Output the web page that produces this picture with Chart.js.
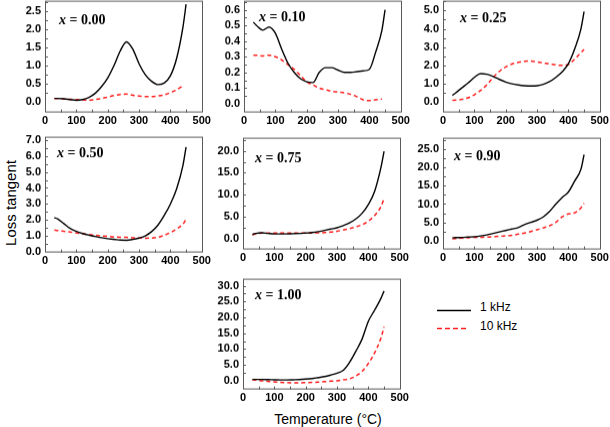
<!DOCTYPE html>
<html>
<head>
<meta charset="UTF-8">
<script src="https://cdn.jsdelivr.net/npm/chart.js"></script>
<style>
  body { margin: 0; background: #fff; }
  #page { position: relative; width: 610px; height: 427px; overflow: hidden; font-family: "Liberation Sans", Arial, sans-serif; color: #000; }
  canvas.panel { position: absolute; }
  .ylab { position: absolute; left: 10px; top: 203px; transform: translate(-50%, -50%) rotate(-90deg); font-size: 15px; white-space: nowrap; }
  .xlab { position: absolute; left: 328px; top: 419px; transform: translate(-50%, -50%); font-size: 14px; white-space: nowrap; }
  .legtxt { position: absolute; left: 480px; font-size: 12px; white-space: nowrap; transform: translateY(-50%); }
  svg.leg { position: absolute; left: 436px; top: 300px; }
</style>
</head>
<body>
<div id="page">
  <div class="ylab">Loss tangent</div>
  <div class="xlab">Temperature (°C)</div>
  <svg class="leg" width="40" height="40">
    <line x1="1" y1="10.5" x2="35" y2="10.5" stroke="#000" stroke-width="1.4"></line>
    <line x1="1" y1="28.5" x2="32" y2="28.5" stroke="#ff1f1f" stroke-width="1.5" stroke-dasharray="5 3"></line>
  </svg>
  <div class="legtxt" style="top:307px">1 kHz</div>
  <div class="legtxt" style="top:326px">10 kHz</div>
</div>
<script>
// temperatures (°C) shared by all curves
const temps = [30, 40, 60, 80, 100, 120, 140, 160, 180, 200, 220, 240, 260, 280, 300, 320, 340, 360, 380, 400, 420, 440, 450];
const xTicks = [0, 100, 200, 300, 400, 500];

// x = 0.00
const k1_000  = [0.10, 0.10, 0.09, 0.07, 0.05, 0.07, 0.13, 0.24, 0.42, 0.66, 1.00, 1.40, 1.65, 1.45, 1.05, 0.75, 0.57, 0.48, 0.52, 0.72, 1.20, 2.05, 2.68];
const k10_000 = [0.10, 0.10, 0.09, 0.08, 0.07, 0.06, 0.05, 0.07, 0.10, 0.14, 0.18, 0.21, 0.22, 0.19, 0.17, 0.15, 0.15, 0.17, 0.20, 0.26, 0.34, 0.45, null];
const yTicks_000 = [0, 0.5, 1.0, 1.5, 2.0, 2.5];

// x = 0.10
const k1_010  = [0.52, 0.50, 0.47, 0.49, 0.45, 0.35, 0.26, 0.20, 0.16, 0.14, 0.135, 0.20, 0.23, 0.23, 0.215, 0.20, 0.20, 0.205, 0.21, 0.22, 0.33, 0.47, 0.60];
const k10_010 = [0.31, 0.31, 0.305, 0.31, 0.30, 0.28, 0.25, 0.22, 0.18, 0.14, 0.12, 0.10, 0.09, 0.08, 0.075, 0.07, 0.06, 0.045, 0.025, 0.02, 0.025, 0.03, null];
const yTicks_010 = [0, 0.1, 0.2, 0.3, 0.4, 0.5, 0.6];

// x = 0.25
const k1_025  = [0.37, 0.50, 0.78, 1.05, 1.35, 1.56, 1.52, 1.40, 1.24, 1.10, 1.00, 0.94, 0.90, 0.88, 0.90, 0.97, 1.12, 1.35, 1.65, 2.10, 2.90, 4.00, 4.95];
const k10_025 = [0.10, 0.11, 0.15, 0.24, 0.40, 0.64, 0.95, 1.35, 1.68, 1.92, 2.08, 2.17, 2.23, 2.24, 2.20, 2.14, 2.08, 2.03, 2.01, 2.05, 2.35, 2.70, 2.88];
const yTicks_025 = [0, 1, 2, 3, 4, 5];

// x = 0.50
const k1_050  = [2.15, 2.08, 1.78, 1.48, 1.29, 1.16, 1.06, 0.98, 0.90, 0.84, 0.80, 0.75, 0.74, 0.79, 0.88, 1.02, 1.28, 1.68, 2.28, 3.00, 3.95, 5.40, 6.55];
const k10_050 = [1.38, 1.35, 1.30, 1.25, 1.20, 1.15, 1.10, 1.06, 1.02, 0.98, 0.95, 0.93, 0.92, 0.90, 0.88, 0.87, 0.88, 0.93, 1.05, 1.22, 1.45, 1.75, 2.05];
const yTicks_050 = [0, 1, 2, 3, 4, 5, 6, 7];

// x = 0.75
const k1_075  = [1.0, 1.2, 1.35, 1.2, 1.1, 1.1, 1.1, 1.15, 1.2, 1.3, 1.4, 1.6, 1.9, 2.2, 2.5, 3.0, 3.6, 4.5, 5.8, 7.8, 10.8, 16.2, 19.9];
const k10_075 = [0.9, 1.1, 1.3, 1.3, 1.3, 1.3, 1.3, 1.3, 1.3, 1.3, 1.3, 1.35, 1.4, 1.5, 1.7, 2.0, 2.3, 2.7, 3.2, 4.0, 5.3, 7.3, 9.2];
const yTicks_075 = [0, 5, 10, 15, 20];

// x = 0.90
const k1_090  = [0.8, 0.85, 0.9, 1.0, 1.1, 1.3, 1.6, 2.0, 2.4, 2.8, 3.2, 3.6, 4.4, 5.0, 5.6, 6.5, 8.0, 10.0, 11.8, 13.3, 16.3, 19.5, 23.5];
const k10_090 = [0.55, 0.6, 0.7, 0.8, 0.9, 0.95, 1.0, 1.1, 1.2, 1.35, 1.5, 1.8, 2.1, 2.5, 3.0, 3.5, 4.1, 5.0, 6.5, 7.3, 7.6, 9.0, 10.2];
const yTicks_090 = [0, 5, 10, 15, 20, 25];

// x = 1.00
const k1_100  = [0.4, 0.4, 0.4, 0.35, 0.3, 0.25, 0.25, 0.3, 0.35, 0.5, 0.7, 1.0, 1.3, 1.8, 2.4, 3.3, 5.8, 9.3, 13.2, 18.8, 22.3, 26.0, 28.3];
const k10_100 = [0.3, 0.2, 0.0, -0.2, -0.35, -0.5, -0.6, -0.65, -0.65, -0.6, -0.55, -0.45, -0.3, -0.15, 0.0, 0.25, 0.6, 1.5, 3.0, 5.5, 8.8, 13.5, 17.0];
const yTicks_100 = [0, 5, 10, 15, 20, 25, 30];

// panel layout: box = [left, top, width, height] of the framed plot area, lab = title offset
const panels = [
  { name: '0.00', k1: k1_000, k10: k10_000, yTicks: yTicks_000, yMin: -0.284, yMax: 2.776, box: [45, 1, 158, 111],   lab: [14, 23] },
  { name: '0.10', k1: k1_010, k10: k10_010, yTicks: yTicks_010, yMin: -0.056, yMax: 0.658, box: [244, 1, 158, 111],  lab: [15, 20] },
  { name: '0.25', k1: k1_025, k10: k10_025, yTicks: yTicks_025, yMin: -0.566, yMax: 5.538, box: [443, 1, 158, 111],  lab: [17, 21] },
  { name: '0.50', k1: k1_050, k10: k10_050, yTicks: yTicks_050, yMin: -0.02,  yMax: 7.19,  box: [45, 137, 158, 115], lab: [12, 20] },
  { name: '0.75', k1: k1_075, k10: k10_075, yTicks: yTicks_075, yMin: -2.45,  yMax: 22.98, box: [243, 138, 158, 111], lab: [12, 24] },
  { name: '0.90', k1: k1_090, k10: k10_090, yTicks: yTicks_090, yMin: -2.39,  yMax: 28.1,  box: [443, 138, 158, 111], lab: [11, 22] },
  { name: '1.00', k1: k1_100, k10: k10_100, yTicks: yTicks_100, yMin: -2.77,  yMax: 32.2,  box: [243, 279, 158, 110], lab: [12, 20] }
];

const AXW = 44, PADT = 8, PADR = 12, XH = 18;
const tickFont = { family: '"Liberation Sans", Arial, sans-serif', size: 11, weight: 'bold' };

function framePlugin(p) {
  return {
    id: 'frame' + p.name,
    afterDraw(chart) {
      const ctx = chart.ctx, a = chart.chartArea, x = chart.scales.x, y = chart.scales.y;
      ctx.save();
      ctx.strokeStyle = '#5a5a5a';
      ctx.lineWidth = 1;
      ctx.strokeRect(a.left + 0.5, a.top + 0.5, a.width - 1, a.height - 1);
      ctx.beginPath();
      for (let v = 50; v < 500; v += 50) {
        const px = Math.round(x.getPixelForValue(v)) + 0.5;
        ctx.moveTo(px, a.bottom);
        ctx.lineTo(px, a.bottom - 3);
      }
      const st = (p.yTicks[1] - p.yTicks[0]) / 2;
      for (let v = p.yTicks[0] + st; v < p.yMax; v += st) {
        const py = Math.round(y.getPixelForValue(v)) + 0.5;
        ctx.moveTo(a.left, py);
        ctx.lineTo(a.left + 3, py);
      }
      ctx.stroke();
      // panel title
      ctx.fillStyle = '#000';
      ctx.textBaseline = 'alphabetic';
      const tx = a.left + p.lab[0], ty = a.top + p.lab[1];
      ctx.font = 'italic bold 14px "Liberation Serif", "Times New Roman", serif';
      ctx.fillText('x', tx, ty);
      const w = ctx.measureText('x').width;
      ctx.font = 'bold 14px "Liberation Serif", "Times New Roman", serif';
      ctx.fillText(' = ' + p.name, tx + w, ty);
      ctx.restore();
    }
  };
}

const page = document.getElementById('page');

panels.forEach(function (p) {
  const [L, T, W, H] = p.box;
  const cv = document.createElement('canvas');
  cv.className = 'panel';
  cv.width = AXW + W + PADR;
  cv.height = PADT + H + XH;
  page.appendChild(cv);

  const chart = new Chart(cv, {
    type: 'line',
    data: {
      datasets: [
        {
          label: '1 kHz',
          data: temps.map((t, i) => ({ x: t, y: p.k1[i] })),
          borderColor: '#000',
          borderWidth: 1.4,
          pointRadius: 0,
          cubicInterpolationMode: 'monotone'
        },
        {
          label: '10 kHz',
          data: temps.map((t, i) => ({ x: t, y: p.k10[i] })),
          borderColor: '#ff1f1f',
          borderWidth: 1.5,
          borderDash: [4, 3],
          pointRadius: 0,
          cubicInterpolationMode: 'monotone'
        }
      ]
    },
    options: {
      responsive: false,
      maintainAspectRatio: false,
      animation: false,
      devicePixelRatio: 1,
      layout: { padding: { top: PADT, right: PADR, left: 0, bottom: 0 } },
      plugins: { legend: { display: false }, tooltip: { enabled: false } },
      scales: {
        x: {
          type: 'linear',
          min: 0,
          max: 504,
          grid: { display: false, drawTicks: false },
          border: { display: false },
          afterBuildTicks: s => { s.ticks = xTicks.map(v => ({ value: v })); },
          afterFit: s => { s.height = XH; },
          ticks: { color: '#000', font: tickFont, padding: 2, maxRotation: 0, autoSkip: false, callback: v => v }
        },
        y: {
          type: 'linear',
          min: p.yMin,
          max: p.yMax,
          grid: { display: false, drawTicks: false },
          border: { display: false },
          afterBuildTicks: s => { s.ticks = p.yTicks.map(v => ({ value: v })); },
          afterFit: s => { s.width = AXW; },
          ticks: { color: '#000', font: tickFont, padding: 4, autoSkip: false, callback: v => Number(v).toFixed(1) }
        }
      }
    },
    plugins: [framePlugin(p)]
  });

  // make the plot frame land exactly on its box, whatever padding the layout added
  let a = chart.chartArea;
  const dw = W - (a.right - a.left), dh = H - (a.bottom - a.top);
  if (Math.abs(dw) > 0.01 || Math.abs(dh) > 0.01) {
    chart.resize(cv.width + dw, cv.height + dh);
    a = chart.chartArea;
  }
  cv.style.left = (L - a.left) + 'px';
  cv.style.top = (T - a.top) + 'px';
});
</script>
</body>
</html>
